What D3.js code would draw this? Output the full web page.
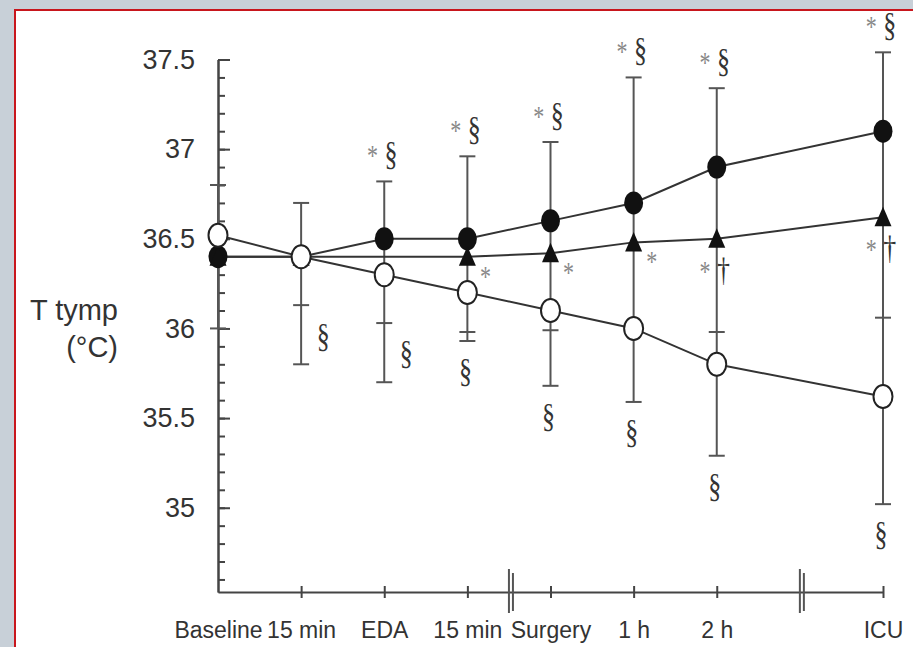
<!DOCTYPE html>
<html lang="en">
<head>
<meta charset="utf-8">
<title>T tymp over time</title>
<script src="https://d3js.org/d3.v7.min.js"></script>
<style>
    body { margin: 0; background: #c8d0d8; }
    svg { display: block; }
    .axis path, .axis line { stroke: #444; stroke-width: 2; }
    .axis text { font-family: "Liberation Sans", Arial, sans-serif; fill: #333; }
    .note { font-family: "Liberation Serif", "DejaVu Serif", serif; }
</style>
</head>
<body>
<script>
// time points (x = position on a broken time axis)
const categories = ["Baseline", "15 min", "EDA", "15 min", "Surgery", "1 h", "2 h", "ICU"];
const catPos = [0, 1, 2, 3, 4, 5, 6, 8];
const breaks = [3.5, 7];

// mean tympanic temperature per group
const filledVals = [36.4, 36.4, 36.5, 36.5, 36.6, 36.7, 36.9, 37.1];
const triVals    = [36.4, 36.4, null, 36.4, 36.42, 36.48, 36.5, 36.62];
const openVals   = [36.52, 36.4, 36.3, 36.2, 36.1, 36.0, 35.8, 35.62];

// error bar ends (one side per group)
const filledUpper = [36.8, 36.7, 36.82, 36.96, 37.04, 37.4, 37.34, 37.54];
const triLower    = [36.0, 36.13, 36.03, 35.98, 35.99, null, 35.98, 36.06];
const openLower   = [null, 35.8, 35.7, 35.93, 35.68, 35.59, 35.29, 35.02];

// significance marks
const topMarks = ["", "", "* §", "* §", "* §", "* §", "* §", "* §"];
const triMarks = ["", "", "", "*", "*", "*", "* †", "* †"];
const lowMarks = ["", "§", "§", "§", "§", "§", "§", "§"];

const yMajor = [35, 35.5, 36, 36.5, 37, 37.5];
const yMajorLabels = ["35", "35.5", "36", "36.5", "37", "37.5"];

const width = 913, height = 647;

const svg = d3.select("body").append("svg")
    .attr("width", width)
    .attr("height", height);

// white panel with red frame
svg.append("rect")
    .attr("x", 15).attr("y", 10)
    .attr("width", 920).attr("height", 660)
    .attr("fill", "#fff")
    .attr("stroke", "#c8161d")
    .attr("stroke-width", 2);

const x = d3.scaleLinear().domain([0, 8]).range([218, 883]);
const y = d3.scaleLinear().domain([34.53, 37.5]).range([592, 59.5]);

// y axis: minor ticks then major ticks + labels
svg.append("g")
    .attr("class", "axis")
    .attr("transform", "translate(218,0)")
    .call(d3.axisLeft(y).tickValues(d3.range(34.6, 37.45, 0.1)).tickSize(-7).tickSizeOuter(0).tickFormat(""));

const yAxis = svg.append("g")
    .attr("class", "axis")
    .attr("transform", "translate(218,0)")
    .call(d3.axisLeft(y).tickValues(yMajor).tickSize(-12).tickSizeOuter(0).tickPadding(23)
        .tickFormat((d, i) => yMajorLabels[i]));
yAxis.selectAll("text").style("font-size", "27px");

// x axis
const xAxis = svg.append("g")
    .attr("class", "axis")
    .attr("transform", "translate(0,592)")
    .call(d3.axisBottom(x).tickValues(catPos).tickSize(6).tickPadding(24).tickSizeOuter(0)
        .tickFormat((d, i) => categories[i]));
xAxis.selectAll(".tick line").attr("y1", -6);
xAxis.selectAll(".tick").filter(d => d === 0).select("line").remove();
xAxis.selectAll("text").style("font-size", "23px");

// axis breaks
breaks.forEach(b => {
    [0, 4].forEach((off, k) => {
        svg.append("line")
            .attr("x1", x(b) + off).attr("x2", x(b) + off)
            .attr("y1", 569 + k * 4).attr("y2", 613 - k * 2)
            .attr("stroke", "#555").attr("stroke-width", 2);
    });
});

// y axis title
const ttl = svg.append("text")
    .attr("text-anchor", "end")
    .style("font-family", "'Liberation Sans', Arial, sans-serif")
    .style("font-size", "29px")
    .attr("fill", "#333");
ttl.append("tspan").attr("x", 118).attr("y", 320).text("T tymp");
ttl.append("tspan").attr("x", 118).attr("y", 357).text("(°C)");

// error bars: one whisker per time point, caps per group
const rows = categories.map((c, i) => {
    const caps = [filledUpper[i], triLower[i], openLower[i]].filter(v => v != null);
    return { i, pos: catPos[i], caps, hi: d3.max(caps), lo: d3.min(caps) };
});

const eb = svg.append("g").attr("stroke", "#555").attr("stroke-width", 2);
eb.selectAll("line.whisker")
    .data(rows)
    .enter().append("line")
    .attr("class", "whisker")
    .attr("x1", d => x(d.pos)).attr("x2", d => x(d.pos))
    .attr("y1", d => y(d.hi)).attr("y2", d => y(d.lo));
eb.selectAll("line.cap")
    .data(rows.flatMap(r => r.caps.map(v => ({ pos: r.pos, v }))))
    .enter().append("line")
    .attr("class", "cap")
    .attr("x1", d => x(d.pos) - 8).attr("x2", d => x(d.pos) + 8)
    .attr("y1", d => y(d.v)).attr("y2", d => y(d.v));

// connecting lines
const line = d3.line().x(d => x(d.pos)).y(d => y(d.v));
function pts(vals) {
    return vals.map((v, i) => ({ pos: catPos[i], v })).filter(d => d.v != null);
}
[filledVals, triVals, openVals].forEach(vals => {
    svg.append("path")
        .datum(pts(vals))
        .attr("d", line)
        .attr("fill", "none")
        .attr("stroke", "#333")
        .attr("stroke-width", 2);
});

// markers
svg.selectAll("ellipse.filled")
    .data(pts(filledVals))
    .enter().append("ellipse")
    .attr("class", "filled")
    .attr("cx", d => x(d.pos)).attr("cy", d => y(d.v))
    .attr("rx", 9.5).attr("ry", 11.5)
    .attr("fill", "#111");

svg.selectAll("path.tri")
    .data(pts(triVals))
    .enter().append("path")
    .attr("class", "tri")
    .attr("transform", d => `translate(${x(d.pos)},${y(d.v)})`)
    .attr("d", "M0,-10.5L8.5,9L-8.5,9Z")
    .attr("fill", "#111");

svg.selectAll("ellipse.open")
    .data(pts(openVals))
    .enter().append("ellipse")
    .attr("class", "open")
    .attr("cx", d => x(d.pos)).attr("cy", d => y(d.v))
    .attr("rx", 9.5).attr("ry", 11.5)
    .attr("fill", "#fff")
    .attr("stroke", "#222")
    .attr("stroke-width", 2);

// significance marks
function mark(text, px, py) {
    const t = svg.append("text")
        .attr("class", "note")
        .attr("text-anchor", "middle")
        .attr("transform", `translate(${px},${py}) scale(1,1.3)`)
        .attr("dy", "0.35em")
        .style("font-size", "26px");
    text.split(" ").forEach((s, k) => {
        t.append("tspan")
            .attr("fill", s === "*" ? "#888" : "#333")
            .style("font-size", s === "*" ? "22px" : null)
            .text((k > 0 ? " " : "") + s);
    });
}

categories.forEach((c, i) => {
    const cx = x(catPos[i]);
    if (topMarks[i]) mark(topMarks[i], cx - 2, y(filledUpper[i]) - 28);
    if (triMarks[i]) {
        const ty = y(triVals[i]);
        if (triMarks[i] === "*") mark("*", cx + 18, ty + 17);
        else mark(triMarks[i], cx - 2, ty + 30);
    }
    if (lowMarks[i]) {
        if (i <= 2) mark(lowMarks[i], cx + 22, (y(triLower[i]) + y(openLower[i])) / 2);
        else mark(lowMarks[i], cx - 2, y(openLower[i]) + 29);
    }
});
</script>
</body>
</html>
